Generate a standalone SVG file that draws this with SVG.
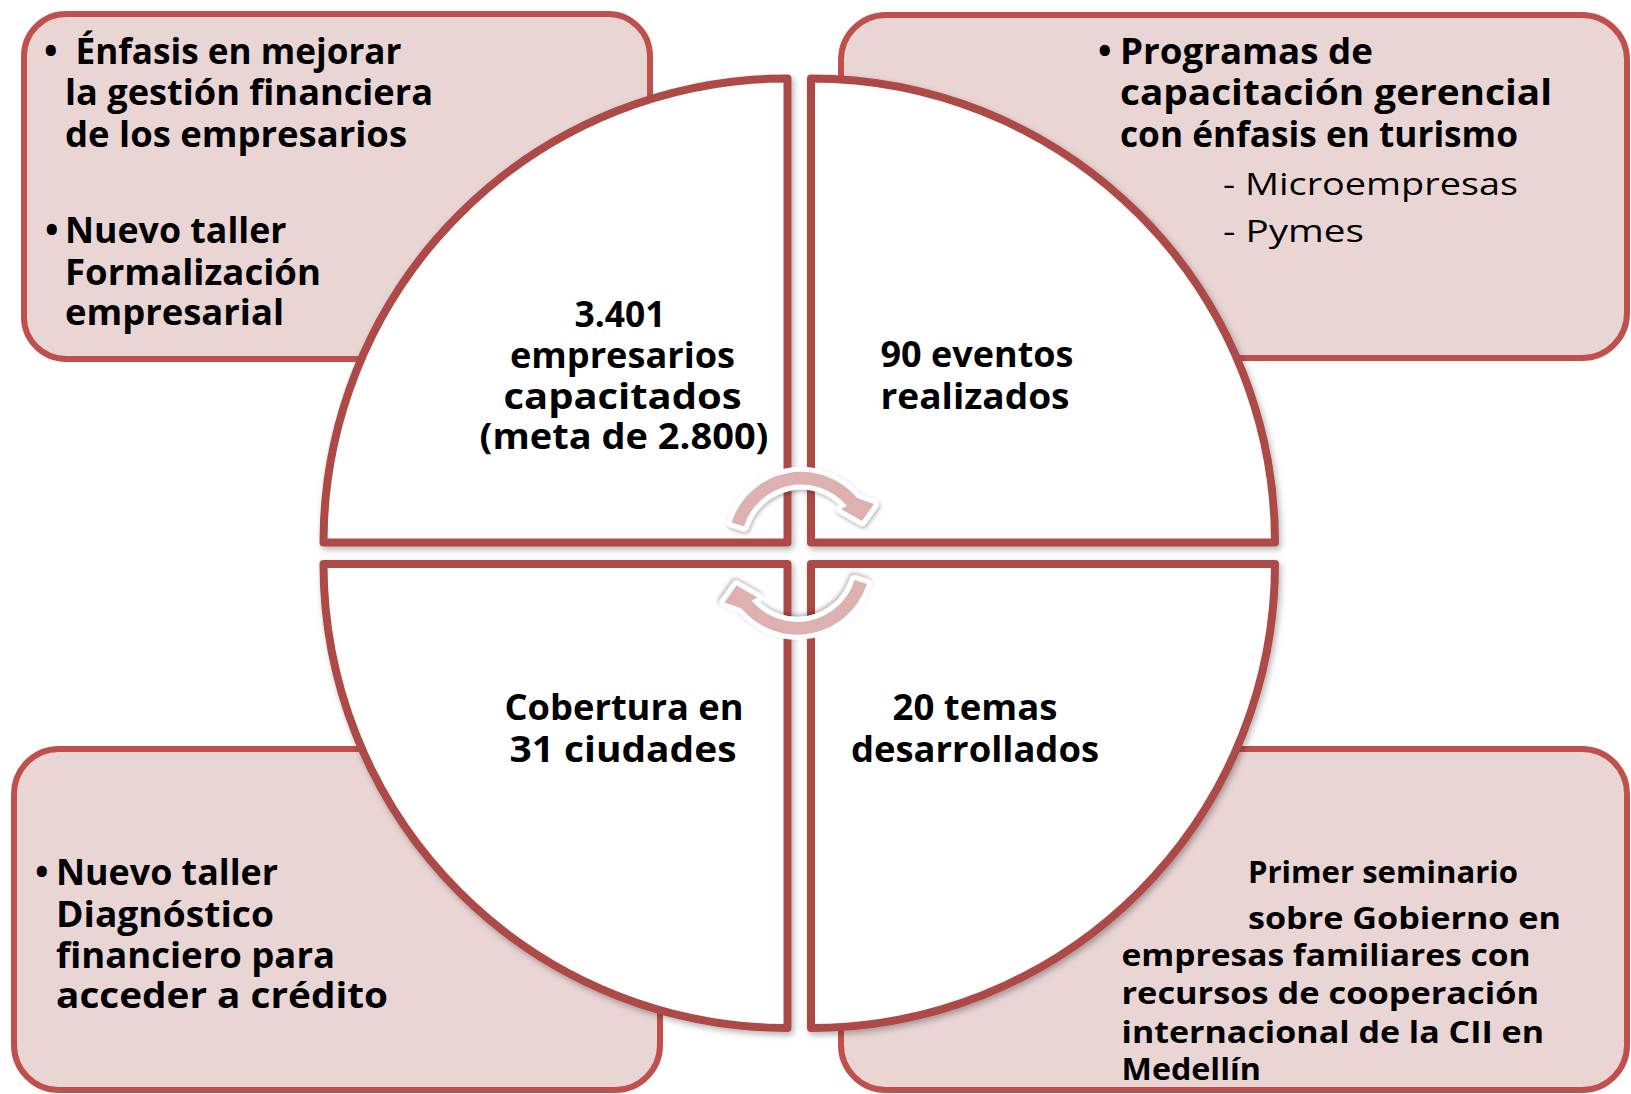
<svg xmlns="http://www.w3.org/2000/svg" width="1631" height="1094" viewBox="0 0 1631 1094">
<defs>
<filter id="sh" x="-10%" y="-10%" width="125%" height="125%">
<feDropShadow dx="2" dy="3" stdDeviation="3" flood-color="#000" flood-opacity="0.3"/>
</filter>
<filter id="sh2" x="-20%" y="-20%" width="140%" height="140%">
<feDropShadow dx="1" dy="2" stdDeviation="2" flood-color="#000" flood-opacity="0.3"/>
</filter>
<style>
.box{fill:#EAD5D5;stroke:#C0504D;stroke-width:6}
.q{fill:#fff;stroke:#AD4A47;stroke-width:8;stroke-linejoin:round;filter:url(#sh)}
.t{font-family:"Open Sans","Liberation Sans",sans-serif;font-weight:700;font-size:36px;fill:#000}
.c{text-anchor:middle}
.s{font-size:31px}
.r{font-weight:400;font-size:31px}
.arr{fill:#DEB1B1;stroke:#fff;stroke-width:10;stroke-linejoin:round;paint-order:stroke;filter:url(#sh2)}
</style>
</defs>
<rect width="1631" height="1094" fill="#fff"/>

<g id="box-tl">
<rect class="box" x="24" y="14" width="626" height="345" rx="42"/>
<text class="t"><tspan x="44" y="63.5">•</tspan><tspan x="75.5" y="63.5" textLength="326" lengthAdjust="spacingAndGlyphs">Énfasis en mejorar</tspan><tspan x="65" y="105" textLength="368" lengthAdjust="spacingAndGlyphs">la gestión financiera</tspan><tspan x="65" y="146.5" textLength="342" lengthAdjust="spacingAndGlyphs">de los empresarios</tspan></text>
<text class="t"><tspan x="45" y="243">•</tspan><tspan x="65" y="243" textLength="221.5" lengthAdjust="spacingAndGlyphs">Nuevo taller</tspan><tspan x="65" y="284.5" textLength="256" lengthAdjust="spacingAndGlyphs">Formalización</tspan><tspan x="65" y="325" textLength="219" lengthAdjust="spacingAndGlyphs">empresarial</tspan></text>
</g>

<g id="box-tr">
<rect class="box" x="841" y="15" width="786" height="343" rx="45"/>
<text class="t"><tspan x="1098" y="63.5">•</tspan><tspan x="1120" y="63.5" textLength="253" lengthAdjust="spacingAndGlyphs">Programas de</tspan><tspan x="1120" y="105" textLength="432" lengthAdjust="spacingAndGlyphs">capacitación gerencial</tspan><tspan x="1120" y="146.5" textLength="398" lengthAdjust="spacingAndGlyphs">con énfasis en turismo</tspan></text>
<text class="t r"><tspan x="1223" y="195" textLength="295" lengthAdjust="spacingAndGlyphs">- Microempresas</tspan><tspan x="1223" y="241.5" textLength="141" lengthAdjust="spacingAndGlyphs">- Pymes</tspan></text>
</g>

<g id="box-bl">
<rect class="box" x="14" y="749" width="646" height="341" rx="45"/>
<text class="t"><tspan x="35" y="885">•</tspan><tspan x="56" y="885" textLength="222" lengthAdjust="spacingAndGlyphs">Nuevo taller</tspan><tspan x="56" y="926.5" textLength="218" lengthAdjust="spacingAndGlyphs">Diagnóstico</tspan><tspan x="56" y="968" textLength="279" lengthAdjust="spacingAndGlyphs">financiero para</tspan><tspan x="56" y="1008" textLength="332" lengthAdjust="spacingAndGlyphs">acceder a crédito</tspan></text>
</g>

<g id="box-br">
<rect class="box" x="841" y="749" width="786" height="341" rx="45"/>
<text class="t s"><tspan x="1248" y="882.5" textLength="270" lengthAdjust="spacingAndGlyphs">Primer seminario</tspan><tspan x="1248" y="928.5" textLength="313" lengthAdjust="spacingAndGlyphs">sobre Gobierno en</tspan><tspan x="1121.5" y="965.5" textLength="409" lengthAdjust="spacingAndGlyphs">empresas familiares con</tspan><tspan x="1121.5" y="1004" textLength="417.5" lengthAdjust="spacingAndGlyphs">recursos de cooperación</tspan><tspan x="1121.5" y="1042.5" textLength="422.5" lengthAdjust="spacingAndGlyphs">internacional de la CII en</tspan><tspan x="1121.5" y="1080" textLength="139.5" lengthAdjust="spacingAndGlyphs">Medellín</tspan></text>
</g>

<g id="q-tl">
<path class="q" d="M787.5,542.5 L323.5,542.5 A464,464 0 0 1 787.5,78.5 Z"/>
<text class="t c"><tspan x="620" y="326.5" textLength="91" lengthAdjust="spacingAndGlyphs">3.401</tspan><tspan x="622.5" y="368" textLength="225" lengthAdjust="spacingAndGlyphs">empresarios</tspan><tspan x="622.5" y="408.5" textLength="238" lengthAdjust="spacingAndGlyphs">capacitados</tspan><tspan x="624" y="448.5" textLength="289" lengthAdjust="spacingAndGlyphs">(meta de 2.800)</tspan></text>
</g>

<g id="q-tr">
<path class="q" d="M811,542.5 L811,78.5 A464,464 0 0 1 1275,542.5 Z"/>
<text class="t c"><tspan x="977" y="367" textLength="193" lengthAdjust="spacingAndGlyphs">90 eventos</tspan><tspan x="975" y="408.5" textLength="189" lengthAdjust="spacingAndGlyphs">realizados</tspan></text>
</g>

<g id="q-bl">
<path class="q" d="M787.5,564 L787.5,1028 A464,464 0 0 1 323.5,564 Z"/>
<text class="t c"><tspan x="624" y="720" textLength="239" lengthAdjust="spacingAndGlyphs">Cobertura en</tspan><tspan x="623" y="761.5" textLength="227" lengthAdjust="spacingAndGlyphs">31 ciudades</tspan></text>
</g>

<g id="q-br">
<path class="q" d="M811,564 L1275,564 A464,464 0 0 1 811,1028 Z"/>
<text class="t c"><tspan x="975" y="720" textLength="165" lengthAdjust="spacingAndGlyphs">20 temas</tspan><tspan x="975" y="761.5" textLength="248" lengthAdjust="spacingAndGlyphs">desarrollados</tspan></text>
</g>

<g id="connectors">
<path id="arrow-top" class="arr" d="M731.6,522.4 A73,73 0 0 1 857,498 L874,504 L862,521 L841,509 L847,506 A60,60 0 0 0 743.9,526.5 Z"/>
<path id="arrow-bottom" class="arr" transform="rotate(180 799.25 553.25)" d="M731.6,522.4 A73,73 0 0 1 857,498 L874,504 L862,521 L841,509 L847,506 A60,60 0 0 0 743.9,526.5 Z"/>
</g>
</svg>
